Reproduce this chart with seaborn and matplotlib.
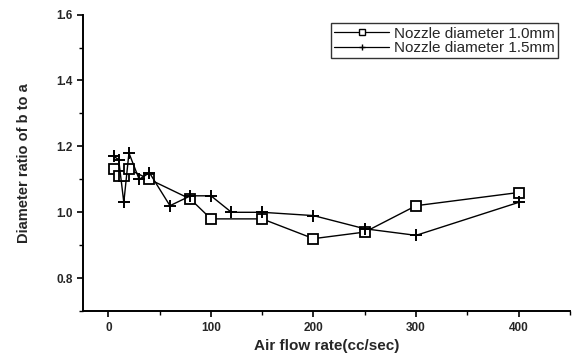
import matplotlib
matplotlib.use("Agg")
import matplotlib.pyplot as plt
import seaborn as sns
import pandas as pd
from matplotlib.ticker import MultipleLocator

sns.set_style("ticks")
plt.rcParams['font.family'] = ['Liberation Sans', 'DejaVu Sans']

x_10 = [5, 10, 15, 20, 40, 80, 100, 150, 200, 250, 300, 400]
y_10 = [1.13, 1.11, 1.11, 1.13, 1.10, 1.04, 0.98, 0.98, 0.92, 0.94, 1.02, 1.06]
x_15 = [5, 10, 15, 20, 30, 40, 60, 80, 100, 120, 150, 200, 250, 300, 400]
y_15 = [1.17, 1.16, 1.03, 1.18, 1.10, 1.12, 1.02, 1.05, 1.05, 1.00, 1.00, 0.99, 0.95, 0.93, 1.03]
labels = ["Nozzle diameter 1.0mm", "Nozzle diameter 1.5mm"]

df = pd.concat([
    pd.DataFrame({"x": x_10, "y": y_10, "series": labels[0]}),
    pd.DataFrame({"x": x_15, "y": y_15, "series": labels[1]}),
])

fig = plt.figure(figsize=(5.75, 3.56), dpi=100)
ax = fig.add_axes([0.144, 0.126, 0.847, 0.833])

sns.lineplot(data=df[df.series == labels[0]], x="x", y="y", ax=ax, color="black",
             marker="s", markersize=7, markerfacecolor="white", markeredgecolor="black",
             markeredgewidth=1.3, linewidth=1.0, sort=False, estimator=None,
             label=labels[0])
sns.lineplot(data=df[df.series == labels[1]], x="x", y="y", ax=ax, color="black",
             marker="+", markersize=8, markeredgecolor="black", markeredgewidth=1.4,
             linewidth=1.0, sort=False, estimator=None, label=labels[1])

ax.set_xlim(-25, 450)
ax.set_ylim(0.7, 1.6)
ax.xaxis.set_major_locator(MultipleLocator(100))
ax.xaxis.set_minor_locator(MultipleLocator(50))
ax.yaxis.set_minor_locator(MultipleLocator(0.1))
ax.set_yticks([0.8, 1.0, 1.2, 1.4, 1.6])
ax.set_yticklabels(["0.8", "1.0", "1.2", "1.4", "1.6"])
ax.tick_params(which="major", direction="out", length=4, width=1.2, labelsize=8.5, color="black")
ax.tick_params(which="minor", direction="out", length=3, width=1.0, color="black")
for lab in ax.get_xticklabels() + ax.get_yticklabels():
    lab.set_fontweight("bold")

for s in ["left", "bottom"]:
    ax.spines[s].set_linewidth(1.4)
    ax.spines[s].set_color("black")
sns.despine(ax=ax)

ax.set_xlabel("Air flow rate(cc/sec)", fontsize=11, fontweight="bold", labelpad=4)
ax.set_ylabel("Diameter ratio of b to a", fontsize=10.5, fontweight="bold", labelpad=18)

leg = ax.legend(loc="upper right", bbox_to_anchor=(0.975, 0.97), frameon=True, fancybox=False,
                edgecolor="black", fontsize=11, handlelength=3.6, handletextpad=0.3,
                borderpad=0.2, labelspacing=0.05, borderaxespad=0.0)
leg.get_frame().set_linewidth(1.0)
for h in leg.legend_handles:
    h.set_markersize(5)
    h.set_linewidth(0.9)
    h.set_markeredgewidth(1.0)

fig.savefig("out.png", dpi=100)
